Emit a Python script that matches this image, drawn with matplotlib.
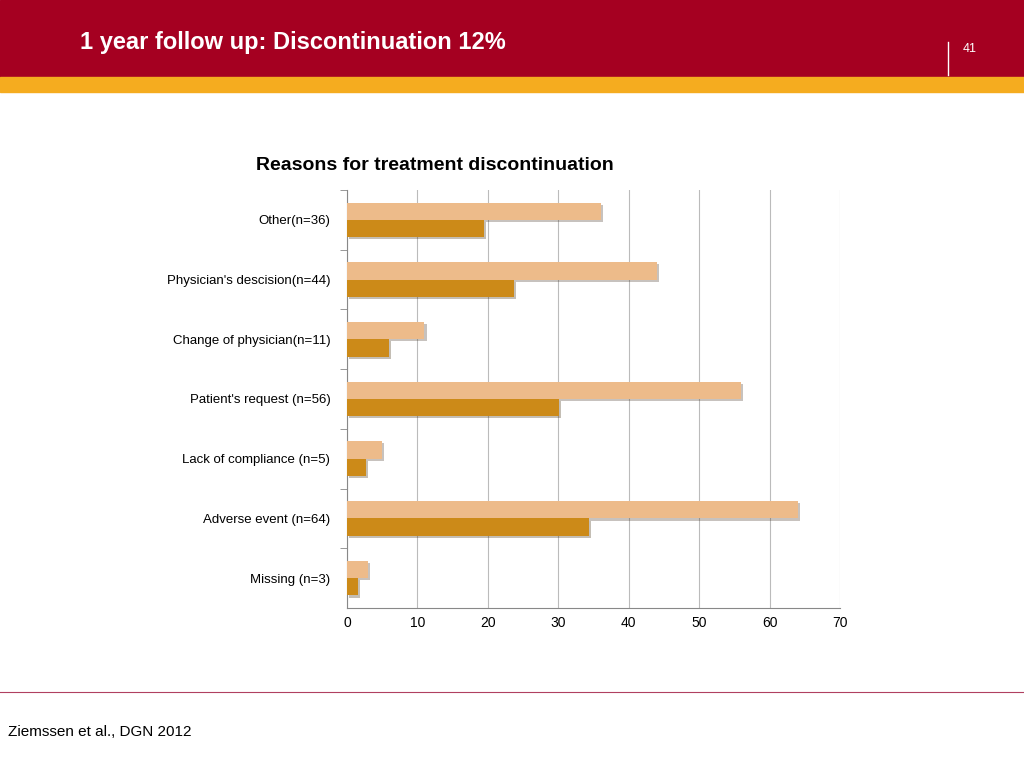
import matplotlib.pyplot as plt
from matplotlib.patches import Rectangle
import matplotlib.patheffects as pe

categories = ["Other(n=36)", "Physician's descision(n=44)", "Change of physician(n=11)",
              "Patient's request (n=56)", "Lack of compliance (n=5)", "Adverse event (n=64)", "Missing (n=3)"]
counts = [36, 44, 11, 56, 5, 64, 3]
percents = [19.4, 23.7, 5.9, 30.1, 2.7, 34.4, 1.6]
xticks = [0, 10, 20, 30, 40, 50, 60, 70]

W, H = 1024, 768
fig = plt.figure(figsize=(W/100, H/100), dpi=100)
fig.patch.set_facecolor('white')
fig.add_artist(Rectangle((0, 1-77/H), 1, 77/H, transform=fig.transFigure, color='#A50021', zorder=0))
fig.add_artist(Rectangle((0, 1-92/H), 1, 15/H, transform=fig.transFigure, color='#F5AC1F', zorder=0))
fig.text(80/W, 1-42/H, "1 year follow up: Discontinuation 12%", color='white', fontsize=17,
         fontweight='bold', family='Liberation Sans', va='center')
fig.add_artist(plt.Line2D([948/W, 948/W], [1-42/H, 1-75/H], color='white', lw=1))
fig.text(963/W, 1-49/H, "41", color='white', fontsize=9, family='Liberation Sans', va='center')
fig.add_artist(plt.Line2D([0, 1], [1-692/H, 1-692/H], color='#B04060', lw=0.8))
fig.text(8/W, 1-732/H, "Ziemssen et al., DGN 2012", fontsize=11, family='Liberation Sans', va='center')
fig.text(435/W, 1-165/H, "Reasons for treatment discontinuation", fontsize=14, fontweight='bold',
         family='Liberation Sans', ha='center', va='center')

ax = fig.add_axes([347/W, 1-608/H, (840-347)/W, (608-190)/H])
n = len(categories)
ys = list(range(n))
h = 0.29
sh = [pe.SimplePatchShadow(offset=(1.5, -1.5), alpha=0.3), pe.Normal()]
b1 = ax.barh([y - h/2 for y in ys], counts, height=h, color='#EDBB8A', zorder=3)
b2 = ax.barh([y + h/2 for y in ys], percents, height=h, color='#CC8A18', zorder=3)
for b in list(b1) + list(b2):
    b.set_path_effects(sh)
ax.set_ylim(n - 0.5, -0.5)
ax.set_xlim(0, 70)
ax.set_xticks(xticks)
ax.set_yticks(ys)
ax.set_yticklabels(categories, fontsize=9.5, family='Liberation Sans')
ax.set_yticks([y + 0.5 for y in ys[:-1]] + [-0.5], minor=True)
ax.tick_params(axis='y', which='major', length=0, pad=12)
ax.tick_params(axis='y', which='minor', length=5, color='#888888', direction='out')
ax.tick_params(axis='x', labelsize=10, length=0, pad=6)
for l in ax.get_xticklabels():
    l.set_family('Liberation Sans')
ax.grid(axis='x', color='#BBBBBB', lw=0.8, zorder=0)
for s in ['top', 'right']:
    ax.spines[s].set_visible(False)
ax.spines['left'].set_color('#888888')
ax.spines['bottom'].set_color('#888888')
fig.savefig('out.png', dpi=100)
